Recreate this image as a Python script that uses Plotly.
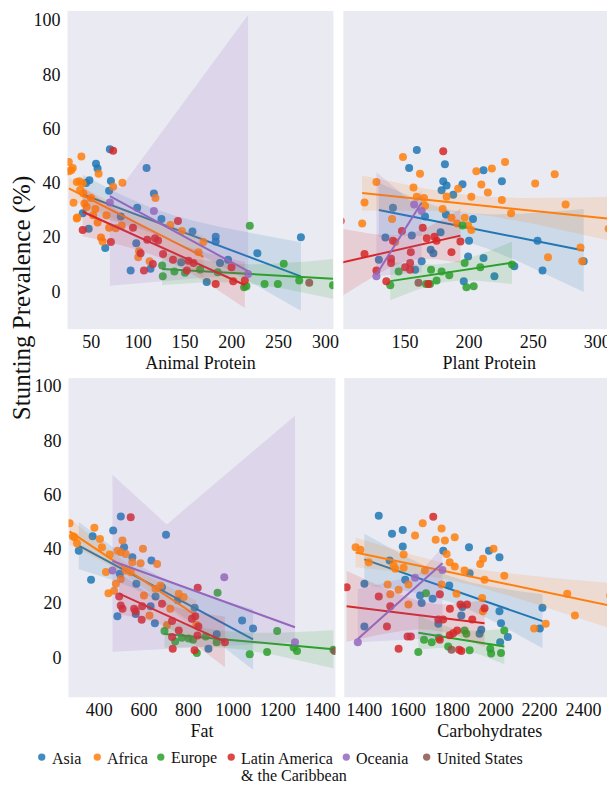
import itertools
import numpy as np
import plotly.graph_objects as go
from plotly.subplots import make_subplots

# ---------------- data ----------------
REGIONS = ["Asia", "Africa", "Europe", "Latin America<br>& the Caribbean", "Oceania", "United States"]
COLORS = ["#1f77b4", "#ff7f0e", "#2ca02c", "#d62728", "#9467bd", "#8c564b"]

Y_TICKS = [0, 20, 40, 60, 80, 100]
ANIMAL_TICKS = [50, 100, 150, 200, 250, 300]
PLANT_TICKS = [150, 200, 250, 300]
FAT_TICKS = [400, 600, 800, 1000, 1200, 1400]
CARB_TICKS = [1400, 1600, 1800, 2000, 2200, 2400]

# Animal protein panel
ANIMAL_ASIA_X = [69.8, 55.0, 56.7, 109.0, 70.9, 69.0, 47.9, 44.4, 40.8, 47.2, 64.9, 116.8, 99.0, 124.9, 158.0,
                 182.8, 182.8, 81.5, 92.0, 98.0, 113.2, 146.0, 173.2, 187.4, 196.0, 227.3, 273.8]
ANIMAL_ASIA_Y = [52.3, 47.0, 45.2, 45.4, 40.6, 37.0, 40.9, 39.9, 28.7, 23.0, 15.9, 36.0, 30.8, 26.6, 22.0,
                 20.1, 18.3, 27.5, 7.6, 17.7, 8.3, 10.7, 3.4, 10.4, 11.6, 14.0, 19.9]
ANIMAL_AFRICA_X = [39.4, 26.0, 30.2, 26.0, 57.8, 83.2, 73.3, 34.5, 40.8, 38.0, 41.5, 49.7, 31.0, 42.6, 54.3,
                   34.9, 34.5, 56.7, 60.3, 62.0, 118.5, 134.4, 146.7, 169.7, 82.5, 69.0, 76.1, 66.2, 100.9,
                   100.1, 112.2, 164.4, 28.5, 45.0, 52.0, 37.3]
ANIMAL_AFRICA_Y = [49.7, 47.6, 45.4, 44.2, 43.3, 40.0, 38.5, 40.3, 39.8, 37.3, 36.0, 34.4, 32.6, 32.3, 30.3,
                   27.2, 26.8, 25.3, 19.8, 18.3, 34.4, 24.4, 22.2, 18.1, 24.2, 23.4, 23.2, 28.0, 14.7,
                   12.5, 11.0, 14.4, 44.6, 31.0, 28.0, 40.5]
ANIMAL_EUROPE_X = [125.6, 126.3, 138.7, 166.2, 213.2, 215.6, 219.2, 235.0, 249.2, 255.5, 272.0, 308.0, 150.0, 185.0]
ANIMAL_EUROPE_Y = [9.5, 5.5, 7.3, 8.0, 1.5, 1.8, 24.1, 2.7, 2.7, 10.1, 3.9, 2.2, 6.8, 7.0]
ANIMAL_LATAM_X = [73.3, 40.8, 70.9, 94.5, 109.7, 118.0, 121.3, 142.5, 102.6, 106.2, 115.7, 126.6, 137.2, 152.0,
                  153.8, 159.1, 182.8, 199.7, 201.5, 213.9]
ANIMAL_LATAM_Y = [51.8, 22.6, 18.1, 23.4, 19.0, 19.5, 18.7, 25.9, 14.0, 7.6, 10.0, 13.7, 11.6, 7.6,
                  11.2, 10.4, 2.7, 8.8, 3.7, 3.9]
ANIMAL_OCEANIA_X = [69.8, 116.8, 217.4]
ANIMAL_OCEANIA_Y = [32.7, 29.6, 6.3]
ANIMAL_US_X = [282.7]
ANIMAL_US_Y = [3.1]

# Plant protein panel
PLANT_ASIA_X = [159.3, 181.2, 153.3, 211.3, 225.6, 179.9, 182.5, 194.9, 178.6, 187.7, 140.7, 165.7, 182.0, 203.1,
                253.4, 257.3, 235.3, 219.8, 211.3, 199.3, 200.0, 195.9, 158.0, 163.1, 129.7, 134.8, 155.4,
                170.1, 172.2, 177.8, 289.4]
PLANT_ASIA_Y = [52.1, 46.8, 45.4, 44.6, 40.5, 40.5, 39.0, 39.4, 37.2, 35.6, 30.8, 27.5, 28.3, 26.6,
                18.6, 7.6, 9.2, 5.5, 12.2, 12.8, 18.6, 3.7, 7.9, 11.0, 11.6, 19.8, 20.5,
                15.3, 14.0, 21.7, 11.0]
PLANT_AFRICA_X = [148.5, 161.8, 205.7, 217.8, 228.1, 266.8, 251.6, 127.8, 156.7, 191.5, 209.6, 214.7, 159.3, 164.9,
                  182.5, 201.8, 225.6, 118.5, 116.7, 140.0, 165.7, 179.4, 186.3, 190.7, 196.6, 199.3, 201.8,
                  232.8, 275.3, 286.9, 288.2, 308.8, 261.6, 142.5]
PLANT_AFRICA_Y = [49.5, 43.3, 44.2, 45.2, 47.6, 43.1, 39.7, 40.3, 38.2, 37.8, 39.3, 36.4, 34.8, 34.4,
                  34.8, 34.8, 33.6, 32.7, 25.0, 26.6, 31.5, 30.3, 27.1, 25.0, 27.1, 24.2, 22.6,
                  28.7, 32.0, 16.1, 11.0, 23.0, 12.5, 18.1]
PLANT_EUROPE_X = [194.9, 233.5, 208.8, 196.6, 198.0, 203.6, 184.6, 178.6, 174.7, 170.4, 166.5, 169.6, 145.1, 138.6]
PLANT_EUROPE_Y = [24.2, 9.8, 8.8, 10.4, 1.5, 1.8, 5.9, 7.3, 3.9, 7.9, 2.7, 2.7, 7.3, 2.2]
PLANT_LATAM_X = [179.9, 100.0, 135.5, 150.2, 154.1, 154.1, 139.2, 139.2, 127.8, 118.5, 140.7, 147.7, 154.6, 163.9,
                 167.0, 173.0, 174.7, 186.3, 193.3, 168.3]
PLANT_LATAM_Y = [51.6, 25.9, 3.7, 8.8, 10.4, 7.9, 10.4, 12.0, 7.6, 13.7, 18.6, 22.2, 14.4, 23.4,
                 19.5, 20.1, 18.6, 14.4, 18.3, 2.7]
PLANT_OCEANIA_X = [127.8, 157.2, 163.1]
PLANT_OCEANIA_Y = [5.5, 32.0, 29.6]
PLANT_US_X = [160.6]
PLANT_US_Y = [3.1]

# Fat panel
FAT_ASIA_X = [370, 308, 462.2, 496.3, 511, 548, 633.7, 699, 363, 566, 481, 681, 827, 752, 652, 492, 563, 630,
              649, 889, 926, 1040, 1089]
FAT_ASIA_Y = [44.6, 39.3, 46.7, 51.9, 40.6, 36.9, 35.7, 45.2, 28.6, 27.1, 15.1, 25.8, 18.3, 21.0, 22.4, 30.8,
              16.0, 18.8, 12.6, 3.2, 8.5, 13.6, 10.6]
FAT_AFRICA_X = [266.7, 281.5, 288.9, 377.8, 403, 411.9, 503.7, 481.5, 518.5, 595.6, 548, 659, 496, 447, 585,
                429.6, 496, 474, 441, 466, 652, 674, 756, 778, 718, 600, 625, 703, 835, 300, 518.5, 541]
FAT_AFRICA_Y = [49.4, 44.6, 44.2, 47.7, 43.6, 40.6, 43.0, 39.3, 38.1, 40.0, 35.0, 34.4, 38.7, 37.9, 34.7,
                31.4, 28.9, 27.1, 23.6, 24.5, 25.3, 26.5, 23.4, 22.2, 17.9, 22.8, 15.4, 11.8, 12.0, 42.0, 32.0, 31.4]
FAT_EUROPE_X = [692, 770, 800, 837, 877, 926, 930, 1074, 1152, 1197, 1271, 1286, 1449, 740, 820]
FAT_EUROPE_Y = [9.7, 7.2, 6.9, 1.6, 7.7, 5.6, 23.8, 1.1, 2.0, 9.7, 3.6, 2.3, 2.8, 5.8, 6.5]
FAT_LATAM_X = [540.7, 489, 496, 504, 556, 592, 681, 841, 563, 590, 726, 726, 729, 756, 815, 830, 844, 840, 827, 963]
FAT_LATAM_Y = [51.6, 22.4, 19.1, 17.9, 17.9, 18.8, 19.7, 25.6, 17.0, 13.8, 13.4, 7.5, 3.2, 9.9, 14.2, 15.1,
               11.4, 8.0, 2.6, 5.6]
FAT_OCEANIA_X = [459, 960, 1277]
FAT_OCEANIA_Y = [32.0, 29.5, 5.6]
FAT_US_X = [1455]
FAT_US_Y = [2.3]

# Carbohydrates panel
CARB_ASIA_X = [1466.5, 1527, 1576, 1878, 1576, 1761, 1969, 2017, 1516, 1881, 2213, 1401, 1587, 1655, 1712, 1788,
               1662, 1848, 2017, 1401, 1738, 1926, 1934, 2020, 2055, 2024, 1843, 2201]
CARB_ASIA_Y = [52.2, 45.5, 46.9, 40.6, 40.8, 39.3, 39.3, 36.9, 35.7, 31.0, 18.3, 27.1, 28.6, 22.8, 21.6, 26.5,
               20.0, 18.5, 17.0, 11.4, 12.4, 8.7, 10.2, 5.6, 7.5, 12.6, 15.4, 10.6]
CARB_AFRICA_X = [1667, 1632, 1753, 1726, 1768, 1813, 1580, 1776, 1990, 1942, 1929, 1361, 1383, 1421, 1534, 1542,
                 1580, 1677, 1790, 1813, 1858, 1949, 2039, 2326, 2361, 2522, 1507, 1557, 1519, 1602, 1753, 1602,
                 1938, 1942, 2228, 2175, 1821]
CARB_AFRICA_Y = [49.4, 44.9, 47.5, 43.3, 43.0, 44.2, 37.9, 38.1, 40.0, 36.3, 34.4, 40.6, 39.6, 35.0, 33.8, 32.6,
                 33.0, 32.0, 35.0, 33.5, 32.0, 28.6, 30.1, 23.4, 15.4, 22.8, 26.8, 24.9, 23.2, 26.8, 26.8, 19.5,
                 21.9, 17.0, 12.4, 10.6, 23.4]
CARB_EUROPE_X = [1682, 1647, 1673, 1708, 1783, 1858, 1866, 1881, 1975, 1979, 2024, 2039, 1740]
CARB_EUROPE_Y = [23.6, 2.0, 6.5, 5.6, 4.0, 9.9, 8.7, 2.6, 3.2, 1.4, 1.6, 9.9, 7.2]
CARB_LATAM_X = [1715, 1745, 1466.5, 1791, 1839, 1869, 1949, 1519, 1320, 1504, 1598, 1613, 1557, 1738, 1760, 1745,
                1790, 1806, 1824, 1833, 1843, 1893]
CARB_LATAM_Y = [51.8, 23.2, 22.4, 17.9, 19.5, 19.5, 18.1, 18.8, 25.8, 11.4, 7.7, 7.7, 3.2, 13.9, 13.9, 6.5,
                8.1, 8.9, 9.9, 2.8, 2.3, 13.9]
CARB_OCEANIA_X = [1371, 1632, 1757]
CARB_OCEANIA_Y = [5.6, 29.3, 32.2]
CARB_US_X = [1798]
CARB_US_Y = [2.8]

# ---------------- assemble ----------------
PANELS = [
    dict(title="Animal Protein", row=1, col=1, ticks=ANIMAL_TICKS, xrange=[24.6, 308.5],
         groups=[(ANIMAL_ASIA_X, ANIMAL_ASIA_Y), (ANIMAL_AFRICA_X, ANIMAL_AFRICA_Y),
                 (ANIMAL_EUROPE_X, ANIMAL_EUROPE_Y), (ANIMAL_LATAM_X, ANIMAL_LATAM_Y),
                 (ANIMAL_OCEANIA_X, ANIMAL_OCEANIA_Y), (ANIMAL_US_X, ANIMAL_US_Y)]),
    dict(title="Plant Protein", row=1, col=2, ticks=PLANT_TICKS, xrange=[102.0, 329.4],
         groups=[(PLANT_ASIA_X, PLANT_ASIA_Y), (PLANT_AFRICA_X, PLANT_AFRICA_Y),
                 (PLANT_EUROPE_X, PLANT_EUROPE_Y), (PLANT_LATAM_X, PLANT_LATAM_Y),
                 (PLANT_OCEANIA_X, PLANT_OCEANIA_Y), (PLANT_US_X, PLANT_US_Y)]),
    dict(title="Fat", row=2, col=1, ticks=FAT_TICKS, xrange=[262, 1458],
         groups=[(FAT_ASIA_X, FAT_ASIA_Y), (FAT_AFRICA_X, FAT_AFRICA_Y),
                 (FAT_EUROPE_X, FAT_EUROPE_Y), (FAT_LATAM_X, FAT_LATAM_Y),
                 (FAT_OCEANIA_X, FAT_OCEANIA_Y), (FAT_US_X, FAT_US_Y)]),
    dict(title="Carbohydrates", row=2, col=2, ticks=CARB_TICKS, xrange=[1309.5, 2635],
         groups=[(CARB_ASIA_X, CARB_ASIA_Y), (CARB_AFRICA_X, CARB_AFRICA_Y),
                 (CARB_EUROPE_X, CARB_EUROPE_Y), (CARB_LATAM_X, CARB_LATAM_Y),
                 (CARB_OCEANIA_X, CARB_OCEANIA_Y), (CARB_US_X, CARB_US_Y)]),
]


def t975(df):
    z = 1.959964
    return z + (z ** 3 + z) / (4 * df) + (5 * z ** 5 + 16 * z ** 3 + 3 * z) / (96 * df ** 2)


def regression(xs, ys):
    """OLS fit over the group's x-range with a 95% band (exhaustive bootstrap for tiny groups)."""
    x = np.asarray(xs, float)
    y = np.asarray(ys, float)
    n = len(x)
    grid = np.linspace(x.min(), x.max(), 120)
    G = np.c_[np.ones_like(grid), grid]
    X = np.c_[np.ones_like(x), x]
    beta = np.linalg.pinv(X) @ y
    yhat = G @ beta
    if n <= 6:
        preds = []
        for idx in itertools.product(range(n), repeat=n):
            idx = list(idx)
            b = np.linalg.pinv(X[idx]) @ y[idx]
            preds.append(G @ b)
        preds = np.array(preds)
        lo = np.percentile(preds, 2.5, axis=0, method="lower")
        hi = np.percentile(preds, 97.5, axis=0, method="higher")
    else:
        resid = y - X @ beta
        s = np.sqrt(resid @ resid / (n - 2))
        xm = x.mean()
        sxx = ((x - xm) ** 2).sum()
        se = s * np.sqrt(1.0 / n + (grid - xm) ** 2 / sxx)
        t = t975(n - 2)
        lo, hi = yhat - t * se, yhat + t * se
    return grid, yhat, lo, hi


def rgba(hex_color, a):
    h = hex_color.lstrip("#")
    r, g, b = int(h[0:2], 16), int(h[2:4], 16), int(h[4:6], 16)
    return f"rgba({r},{g},{b},{a})"


FONT = "Liberation Serif, Times New Roman, serif"
PAGE_OFFSET = 8          # the page body margin shifts the figure by 8px
RIGHT_EDGE = 640         # right-hand panels run past the 615px window, as in the cropped original
W, H = RIGHT_EDGE - PAGE_OFFSET, 785 - PAGE_OFFSET


def fx(px):
    return (px - PAGE_OFFSET) / W


def fy(py):
    return 1 - (py - PAGE_OFFSET) / H


fig = make_subplots(rows=2, cols=2)

for p in PANELS:
    for (gx, gy), name, color in zip(p["groups"], REGIONS, COLORS):
        if len(gx) >= 3:
            grid, yhat, lo, hi = regression(gx, gy)
            fig.add_trace(go.Scatter(
                x=np.concatenate([grid, grid[::-1]]), y=np.concatenate([hi, lo[::-1]]),
                fill="toself", fillcolor=rgba(color, 0.15), line=dict(width=0),
                mode="lines", hoverinfo="skip", showlegend=False), row=p["row"], col=p["col"])
            fig.add_trace(go.Scatter(
                x=grid, y=yhat, mode="lines", line=dict(color=color, width=2),
                hoverinfo="skip", showlegend=False), row=p["row"], col=p["col"])
        fig.add_trace(go.Scatter(
            x=gx, y=gy, mode="markers", name=name.replace("<br>", " "),
            marker=dict(color=color, size=8, opacity=0.85, line=dict(width=0)),
            showlegend=False), row=p["row"], col=p["col"])

# panel placement (reference pixel positions)
X_DOMAINS = {1: [fx(68), fx(336)], 2: [fx(346), 1.0], 3: [fx(69), fx(338)], 4: [fx(347), 1.0]}
Y_TOP = [fy(328), fy(9)]
Y_BOTTOM = [fy(697), fy(377)]

tickfont = dict(family=FONT, size=18, color="#111111")
for i, p in enumerate(PANELS, start=1):
    sfx = "" if i == 1 else str(i)
    fig.layout["xaxis" + sfx].update(
        domain=X_DOMAINS[i], range=p["xrange"], tickvals=p["ticks"], showgrid=False, zeroline=False,
        showline=False, ticks="", tickfont=tickfont, ticklabelstandoff=0,
        title=dict(text=p["title"], font=dict(family=FONT, size=18, color="#111111"), standoff=5))
    yr = [-14.0, 103.3] if p["row"] == 1 else [-14.7, 102.9]
    fig.layout["yaxis" + sfx].update(
        domain=Y_TOP if p["row"] == 1 else Y_BOTTOM, range=yr, tickvals=Y_TICKS,
        showgrid=False, zeroline=False, showline=False, ticks="", tickfont=tickfont,
        showticklabels=(p["col"] == 1), ticklabelstandoff=6)

# legend built from region names / colours (layout positions only)
LEGEND_TEXT_LEFT = [50, 106, 170, 241, 357, 438]
LEGEND_ROW_Y = [758, 775]
shapes, annotations = [], []
for name, color, tx in zip(REGIONS, COLORS, LEGEND_TEXT_LEFT):
    cx, cy, r = tx - 8, 757, 3.7
    shapes.append(dict(type="circle", xref="paper", yref="paper",
                       x0=fx(cx - r), x1=fx(cx + r), y0=fy(cy + r), y1=fy(cy - r),
                       fillcolor=color, opacity=0.85, line=dict(width=0)))
    for line_text, ly in zip(name.split("<br>"), LEGEND_ROW_Y):
        annotations.append(dict(text=line_text, x=fx(tx), y=fy(ly), xref="paper", yref="paper",
                                xanchor="left", yanchor="middle", align="left", showarrow=False,
                                font=dict(family=FONT, size=16, color="#111111")))

annotations.append(dict(text="Stunting Prevalence (%)", x=fx(22), y=fy(297), xref="paper", yref="paper",
                        textangle=-90, xanchor="center", yanchor="middle", showarrow=False,
                        font=dict(family=FONT, size=25, color="#111111")))

fig.update_layout(
    width=W, height=H, margin=dict(l=0, r=0, t=0, b=0),
    paper_bgcolor="white", plot_bgcolor="#EAEAF2",
    showlegend=False, shapes=shapes, annotations=annotations,
)

fig.write_html("out.html")
